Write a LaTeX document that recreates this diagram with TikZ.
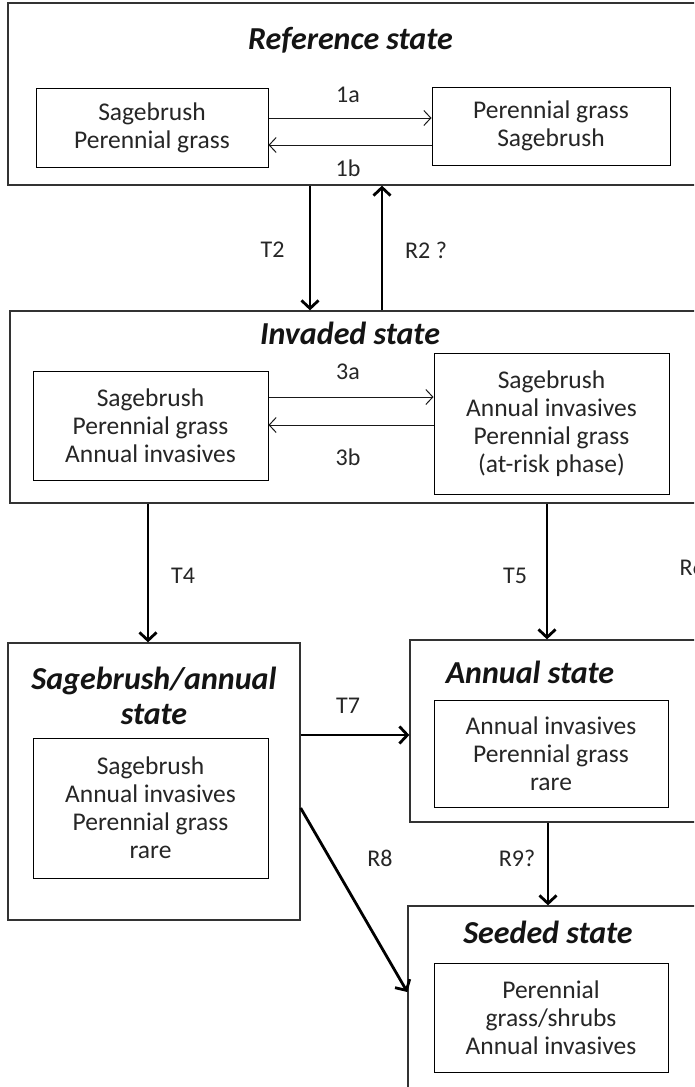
\documentclass[tikz,border=0pt]{standalone}
\usepackage{fontspec}
\setmainfont{Carlito}
\usetikzlibrary{arrows.meta}
\begin{document}
\begin{tikzpicture}[x=1pt,y=-1pt,
  outerbox/.style={draw=black!80, line width=1.3pt, fill=white},
  innerbox/.style={draw=black, line width=1pt, align=center, inner sep=0pt,
    font=\fontsize{25.5}{28}\selectfont, text=black!85},
  title/.style={font=\fontsize{32}{35}\selectfont\bfseries\itshape, align=center, text=black!92},
  lbl/.style={font=\fontsize{24}{28}\selectfont, text=black!85},
  swap/.style={draw=black!90, line width=1pt, -{Straight Barb[length=7pt,width=15pt]}},
  trans/.style={draw=black, line width=2.8pt, -{Straight Barb[length=8pt,width=17pt]}}]
\useasboundingbox (0,0) rectangle (694,1087);
\clip (0,0) rectangle (694,1087);
\fill[white] (0,0) rectangle (694,1087);

% Reference state
\node[outerbox, minimum width=712pt, minimum height=182pt] (ref) at (364,94) {};
\node[title] (reft) at (350.5,40) {Reference state};
\node[innerbox, minimum width=232pt, minimum height=79pt] (r1) at (152,128) {Sagebrush\\Perennial grass};
\node[innerbox, minimum width=238pt, minimum height=78pt] (r2) at (551,126) {Perennial grass\\Sagebrush};
\coordinate (y1a) at (0,118);
\coordinate (y1b) at (0,145);
\draw[swap] (r1.east |- y1a) -- (r2.west |- y1a);
\draw[swap] (r2.west |- y1b) -- (r1.east |- y1b);
\node[lbl] (l1a) at (348,95) {1a};
\node[lbl] (l1b) at (348,168) {1b};

% Invaded state
\node[outerbox, minimum width=710pt, minimum height=192pt] (inv) at (365,407) {};
\node[title] (invt) at (350,333) {Invaded state};
\node[innerbox, minimum width=235pt, minimum height=109pt] (i1) at (150.5,425.5) {Sagebrush\\Perennial grass\\Annual invasives};
\node[innerbox, minimum width=235pt, minimum height=141pt] (i2) at (551.5,423.5) {Sagebrush\\Annual invasives\\Perennial grass\\(at-risk phase)};
\coordinate (y3a) at (0,397);
\coordinate (y3b) at (0,425);
\draw[swap] (i1.east |- y3a) -- (i2.west |- y3a);
\draw[swap] (i2.west |- y3b) -- (i1.east |- y3b);
\node[lbl] (l3a) at (348,372) {3a};
\node[lbl] (l3b) at (348,457) {3b};

% Reference <-> Invaded
\coordinate (xt2) at (310,0);
\coordinate (xr2) at (382,0);
\draw[trans] (ref.south -| xt2) -- (inv.north -| xt2);
\draw[trans] (inv.north -| xr2) -- (ref.south -| xr2);
\node[lbl] (lt2) at (272.5,250) {T2};
\node[lbl] (lr2) at (426,250) {R2 ?};

% Sagebrush/annual state
\node[outerbox, minimum width=292pt, minimum height=277pt] (sa) at (154,781.5) {};
\node[title] (sat) at (154,696) {Sagebrush/annual\\state};
\node[innerbox, minimum width=235pt, minimum height=140pt] (s1) at (150.5,808) {Sagebrush\\Annual invasives\\Perennial grass\\rare};

% Annual state
\node[outerbox, minimum width=310pt, minimum height=182pt] (an) at (565,731) {};
\node[title] (ant) at (530,672) {Annual state};
\node[innerbox, minimum width=234pt, minimum height=107pt] (a1) at (551,753.5) {Annual invasives\\Perennial grass\\rare};

% Seeded state
\node[outerbox, minimum width=312pt, minimum height=195pt] (sd) at (564,1003.5) {};
\node[title] (sdt) at (548,932) {Seeded state};
\node[innerbox, minimum width=234pt, minimum height=109pt] (d1) at (551,1017.5) {Perennial\\grass/shrubs\\Annual invasives};

% Transitions from the invaded state
\coordinate (xt4) at (148,0);
\coordinate (xt5) at (547,0);
\draw[trans] (inv.south -| xt4) -- (sa.north -| xt4);
\draw[trans] (inv.south -| xt5) -- (an.north -| xt5);
\node[lbl] (lt4) at (183,576) {T4};
\node[lbl] (lt5) at (515,576) {T5};
\node[lbl, anchor=west] (lr6) at (676,567) {R6};

% Transitions and restoration from the lower states
\coordinate (yt7) at (0,735);
\draw[trans] (sa.east |- yt7) -- (an.west |- yt7);
\node[lbl] (lt7) at (348,706) {T7};
\coordinate (r8s) at (0,808);
\coordinate (r8e) at (0,992);
\draw[trans] (sa.east |- r8s) -- (sd.west |- r8e);
\node[lbl] (lr8) at (380,858) {R8};
\coordinate (xr9) at (548,0);
\draw[trans] (an.south -| xr9) -- (sd.north -| xr9);
\node[lbl] (lr9) at (517,858) {R9?};
\end{tikzpicture}
\end{document}
